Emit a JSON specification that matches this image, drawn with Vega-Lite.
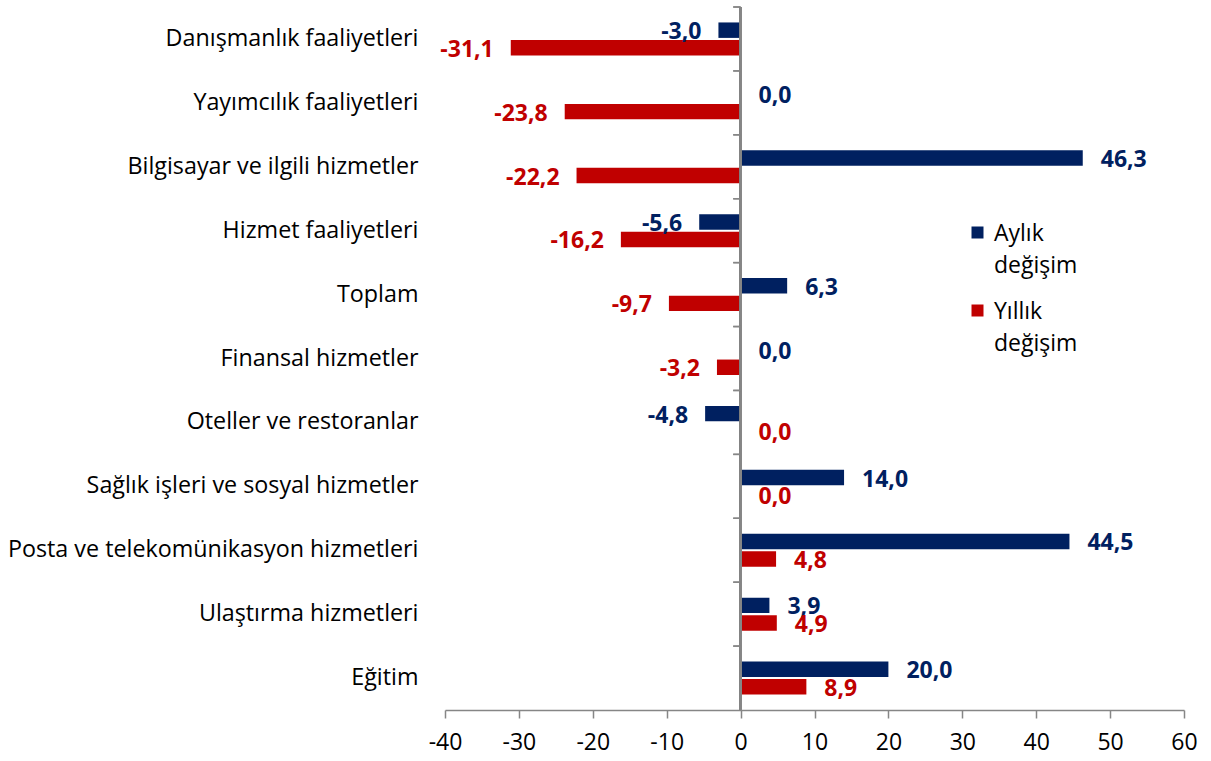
{
  "$schema": "https://vega.github.io/schema/vega-lite/v6.json",
  "autosize": "none",
  "width": 739,
  "height": 703,
  "padding": {"left": 445, "top": 7, "right": 27, "bottom": 51},
  "background": "white",
  "config": {
    "view": {"stroke": null},
    "font": "Open Sans",
    "locale": {"number": {"decimal": ",", "thousands": ".", "grouping": [3], "currency": ["", ""], "minus": "-"}}
  },
  "data": {
    "values": [
      {"kategori": "Danışmanlık faaliyetleri", "seri": "Aylık değişim", "deger": -3.0},
      {"kategori": "Danışmanlık faaliyetleri", "seri": "Yıllık değişim", "deger": -31.1},
      {"kategori": "Yayımcılık faaliyetleri", "seri": "Aylık değişim", "deger": 0.0},
      {"kategori": "Yayımcılık faaliyetleri", "seri": "Yıllık değişim", "deger": -23.8},
      {"kategori": "Bilgisayar ve ilgili hizmetler", "seri": "Aylık değişim", "deger": 46.3},
      {"kategori": "Bilgisayar ve ilgili hizmetler", "seri": "Yıllık değişim", "deger": -22.2},
      {"kategori": "Hizmet faaliyetleri", "seri": "Aylık değişim", "deger": -5.6},
      {"kategori": "Hizmet faaliyetleri", "seri": "Yıllık değişim", "deger": -16.2},
      {"kategori": "Toplam", "seri": "Aylık değişim", "deger": 6.3},
      {"kategori": "Toplam", "seri": "Yıllık değişim", "deger": -9.7},
      {"kategori": "Finansal hizmetler", "seri": "Aylık değişim", "deger": 0.0},
      {"kategori": "Finansal hizmetler", "seri": "Yıllık değişim", "deger": -3.2},
      {"kategori": "Oteller ve restoranlar", "seri": "Aylık değişim", "deger": -4.8},
      {"kategori": "Oteller ve restoranlar", "seri": "Yıllık değişim", "deger": 0.0},
      {"kategori": "Sağlık işleri ve sosyal hizmetler", "seri": "Aylık değişim", "deger": 14.0},
      {"kategori": "Sağlık işleri ve sosyal hizmetler", "seri": "Yıllık değişim", "deger": 0.0},
      {"kategori": "Posta ve telekomünikasyon hizmetleri", "seri": "Aylık değişim", "deger": 44.5},
      {"kategori": "Posta ve telekomünikasyon hizmetleri", "seri": "Yıllık değişim", "deger": 4.8},
      {"kategori": "Ulaştırma hizmetleri", "seri": "Aylık değişim", "deger": 3.9},
      {"kategori": "Ulaştırma hizmetleri", "seri": "Yıllık değişim", "deger": 4.9},
      {"kategori": "Eğitim", "seri": "Aylık değişim", "deger": 20.0},
      {"kategori": "Eğitim", "seri": "Yıllık değişim", "deger": 8.9}
    ]
  },
  "encoding": {
    "y": {
      "field": "kategori", "type": "nominal", "sort": null,
      "scale": {"paddingInner": 0, "paddingOuter": 0},
      "axis": {"title": null, "domain": false, "ticks": false, "labelPadding": 27, "labelFontSize": 23.3, "labelColor": "#000000", "labelLimit": 600, "labelFont": "Open Sans"}
    }
  },
  "layer": [
    {
      "mark": {"type": "bar"},
      "encoding": {
        "x": {
          "field": "deger", "type": "quantitative",
          "scale": {"domain": [-40, 60], "nice": false, "zero": false},
          "axis": {"title": null, "values": [-40, -30, -20, -10, 0, 10, 20, 30, 40, 50, 60], "grid": false, "domainColor": "#868686", "domainWidth": 1.5, "tickColor": "#868686", "tickWidth": 1.5, "tickSize": 8, "labelFontSize": 23, "labelColor": "#000000", "labelPadding": 13, "labelFlush": false, "format": "d"}
        },
        "yOffset": {"field": "seri", "type": "nominal", "sort": ["Aylık değişim", "Yıllık değişim"], "scale": {"paddingInner": 0.12, "paddingOuter": 0.88}},
        "color": {
          "field": "seri", "type": "nominal",
          "scale": {"domain": ["Aylık değişim", "Yıllık değişim"], "range": ["#002060", "#C00000"]},
          "legend": {"title": null, "orient": "none", "legendX": 521, "legendY": 214, "symbolType": "square", "symbolSize": 144, "symbolStrokeWidth": 0, "labelFontSize": 23, "labelColor": "#000000", "labelExpr": "split(datum.label, ' ')", "rowPadding": 21, "labelOffset": 5, "labelBaseline": "top", "encode": {"labels": {"update": {"lineHeight": {"value": 32}, "dy": {"value": -10}}}}}
        }
      }
    },
    {
      "mark": {"type": "rule", "color": "#868686", "strokeWidth": 1.5},
      "encoding": {"x": {"datum": 0}, "y": null}
    },
    {
      "mark": {"type": "rule", "color": "#868686", "strokeWidth": 1.5},
      "encoding": {"x": {"datum": -1}, "x2": {"datum": 0}, "y": {"field": "kategori", "type": "nominal", "sort": null, "bandPosition": 0}}
    },
    {
      "transform": [{"filter": "datum.deger >= 0"}],
      "mark": {"type": "text", "align": "left", "baseline": "middle", "dx": 18, "dy": 2, "fontSize": 23, "fontWeight": "bold"},
      "encoding": {
        "x": {"field": "deger", "type": "quantitative"},
        "yOffset": {"field": "seri", "type": "nominal", "sort": ["Aylık değişim", "Yıllık değişim"]},
        "text": {"field": "deger", "type": "quantitative", "format": ".1f"},
        "color": {"field": "seri", "type": "nominal", "legend": null}
      }
    },
    {
      "transform": [{"filter": "datum.deger < 0"}],
      "mark": {"type": "text", "align": "right", "baseline": "middle", "dx": -17, "dy": 2, "fontSize": 23, "fontWeight": "bold"},
      "encoding": {
        "x": {"field": "deger", "type": "quantitative"},
        "yOffset": {"field": "seri", "type": "nominal", "sort": ["Aylık değişim", "Yıllık değişim"]},
        "text": {"field": "deger", "type": "quantitative", "format": ".1f"},
        "color": {"field": "seri", "type": "nominal", "legend": null}
      }
    }
  ]
}
